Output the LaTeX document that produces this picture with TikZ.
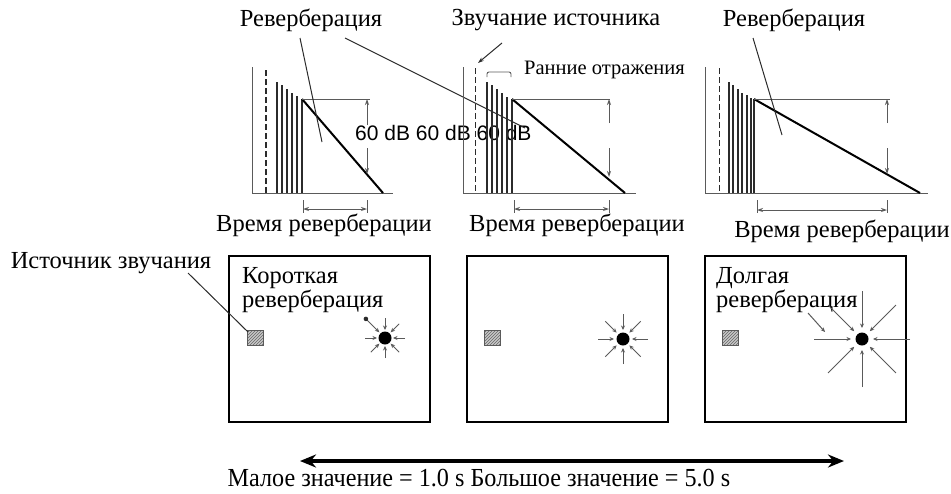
\documentclass[tikz,border=0pt]{standalone}
\usepackage{fontspec}
\setmainfont{Liberation Serif}
\newfontfamily\dbfont{Liberation Sans}
\usetikzlibrary{arrows.meta,patterns}
\definecolor{ink}{HTML}{2B2B2B}
\definecolor{axisgray}{HTML}{5A5A5A}

\tikzset{
  axis/.style={draw=axisgray, line width=1pt},
  bar/.style={draw=ink, line width=1.6pt},
  decay/.style={draw=black, line width=2pt},
  dim/.style={draw=axisgray, line width=0.9pt},
  dimarrow/.style={dim, -{Stealth[length=6pt,width=4pt]}},
  dimboth/.style={dim, {Stealth[length=6pt,width=4pt]}-{Stealth[length=6pt,width=4pt]}},
  lead/.style={draw=ink, line width=1pt},
  lbl/.style={inner sep=0pt, font=\fontsize{24.5}{24}\selectfont},
  room/.style={draw=black, line width=2pt},
  srcbox/.style={draw=axisgray, line width=0.8pt, preaction={fill=black!22},
                 pattern=north east lines, pattern color=black!60},
  ray/.style={draw=axisgray, line width=1pt, -{Stealth[length=4.5pt,width=4pt]}},
  spot/.style={circle, fill=black, minimum size=13pt, inner sep=0pt},
}

\begin{document}
\begin{tikzpicture}[x=1pt, y=-1pt]
  \useasboundingbox (0,0) rectangle (951,493);

  % --- decay plot 1
  \draw[axis] (252,67) -- (252,193) -- (393,193);
  \draw[draw=ink, line width=2.2pt, dash pattern=on 6pt off 3pt] (266,70) -- (266,193);
  \foreach \x/\t in {277/82,282/85,287/89,292/93,297/96,302/99}
    \draw[bar] (\x,\t) -- (\x,193);
  \draw[decay] (302,99) -- (383,193);
  \draw[dim] (302,99) -- (370,99);
  \draw[dimarrow] (367,125) -- (367,99);
  \draw[dimarrow] (367,148) -- (367,174);
  \draw[dim] (303,200) -- (303,213) (367,200) -- (367,213);
  \draw[dimboth] (303,209) -- (367,209);
  \node[lbl] (rev1) at (311,20) {Реверберация};
  \node[lbl] (rt1) at (324,225) {Время реверберации};
  \node[inner sep=0pt, anchor=west, font=\dbfont\fontsize{21}{24}\selectfont]
    (db) at (355,133) {60 dB 60 dB 60 dB};
  \coordinate (r1a) at (300,38);  \coordinate (r1b) at (322,142);
  \coordinate (r2a) at (345,38);  \coordinate (r2b) at (525,128);
  \draw[lead] (r1a) -- (r1b);
  \draw[lead] (r2a) -- (r2b);

  % --- decay plot 2
  \draw[axis] (463,67) -- (463,193) -- (636,193);
  \draw[draw=ink, line width=1pt, dash pattern=on 6pt off 3pt] (475,68) -- (475,193);
  \foreach \x/\t in {487/82,492/85,497/89,502/93,507/97,512/99}
    \draw[bar] (\x,\t) -- (\x,193);
  \draw[decay] (512,99) -- (625,193);
  \draw[dim] (512,99) -- (610,99);
  \draw[dimarrow] (609,123) -- (609,99);
  \draw[dimarrow] (609,148) -- (609,177);
  \draw[dim] (514,200) -- (514,213) (609,200) -- (609,213);
  \draw[dimboth] (514,209) -- (609,209);
  \node[lbl] (src) at (556,20) {Звучание источника};
  \coordinate (s1) at (502,43);  \coordinate (s2) at (478,63);
  \draw[lead, -{Stealth[length=6pt,width=4pt]}] (s1) -- (s2);
  \draw[dim, rounded corners=2pt] (487,77) -- (487,72) -- (511,72) -- (511,77);
  \node[lbl, anchor=west, font=\fontsize{20.5}{24}\selectfont] (early) at (524,70) {Ранние отражения};
  \node[lbl] (rt2) at (577,225) {Время реверберации};

  % --- decay plot 3
  \draw[axis] (705,67) -- (705,193) -- (928,193);
  \draw[draw=ink, line width=1pt, dash pattern=on 6pt off 3pt] (719,68) -- (719,193);
  \foreach \x/\t in {729/82,733/85,738/89,742/93,747/95,751/98,754/99}
    \draw[bar] (\x,\t) -- (\x,193);
  \draw[decay] (754,99) -- (920,193);
  \draw[dim] (754,99) -- (890,99);
  \draw[dimarrow] (887,123) -- (887,99);
  \draw[dimarrow] (887,148) -- (887,174);
  \draw[dim] (757,200) -- (757,213) (887,200) -- (887,213);
  \draw[dimboth] (757,210) -- (887,210);
  \node[lbl] (rev3) at (794,20) {Реверберация};
  \coordinate (r3a) at (753,38);  \coordinate (r3b) at (782,135);
  \draw[lead] (r3a) -- (r3b);
  \node[lbl] (rt3) at (842,231) {Время реверберации};

  % --- rooms
  \draw[room] (229,256) rectangle (430,422);
  \draw[room] (467,256) rectangle (668,422);
  \draw[room] (705,256) rectangle (906,422);
  \draw[srcbox] (247,330) rectangle (263,345);
  \draw[srcbox] (484,330) rectangle (500,345);
  \draw[srcbox] (722,330) rectangle (738,345);
  \node[lbl] (srclbl) at (111,263) {Источник звучания};
  \coordinate (q1) at (188,273);  \coordinate (q2) at (248,332);
  \draw[lead] (q1) -- (q2);
  \node[lbl, align=left, anchor=north west] (short) at (242,267) {Короткая\\реверберация};
  \node[lbl, align=left, anchor=north west] (long) at (716,267) {Долгая\\реверберация};

  % listener spots and reflections
  \node[spot] (c1) at (385,338) {};
  \node[spot] (c2) at (623,339) {};
  \node[spot] (c3) at (862,339) {};
  \foreach \a in {0,45,90,135,180,270,315}
    \draw[ray] ([shift={(\a:20)}]c1.center) -- ([shift={(\a:8)}]c1.center);
  \draw[ray] ([shift={(225:27)}]c1.center) -- ([shift={(225:8)}]c1.center);
  \fill[ink] ([shift={(225:27)}]c1.center) circle (2.3);
  \foreach \a in {0,45,...,315}
    \draw[ray] ([shift={(\a:25)}]c2.center) -- ([shift={(\a:9)}]c2.center);
  \foreach \a in {0,45,...,315}
    \draw[ray] ([shift={(\a:48)}]c3.center) -- ([shift={(\a:11)}]c3.center);
  \coordinate (e1) at (808,313);  \coordinate (e2) at (825,332);
  \draw[ray] (e1) -- (e2);

  % --- range arrow
  \coordinate (lo) at (300,461);  \coordinate (hi) at (844,461);
  \draw[line width=3.5pt, {Stealth[length=16pt,width=13pt]}-{Stealth[length=16pt,width=13pt]}] (lo) -- (hi);
  \node[inner sep=0pt, font=\fontsize{26}{30}\selectfont] (range) at (479,478)
    {\scalebox{0.93}[1]{Малое значение = 1.0 s Большое значение = 5.0 s}};
\end{tikzpicture}
\end{document}
